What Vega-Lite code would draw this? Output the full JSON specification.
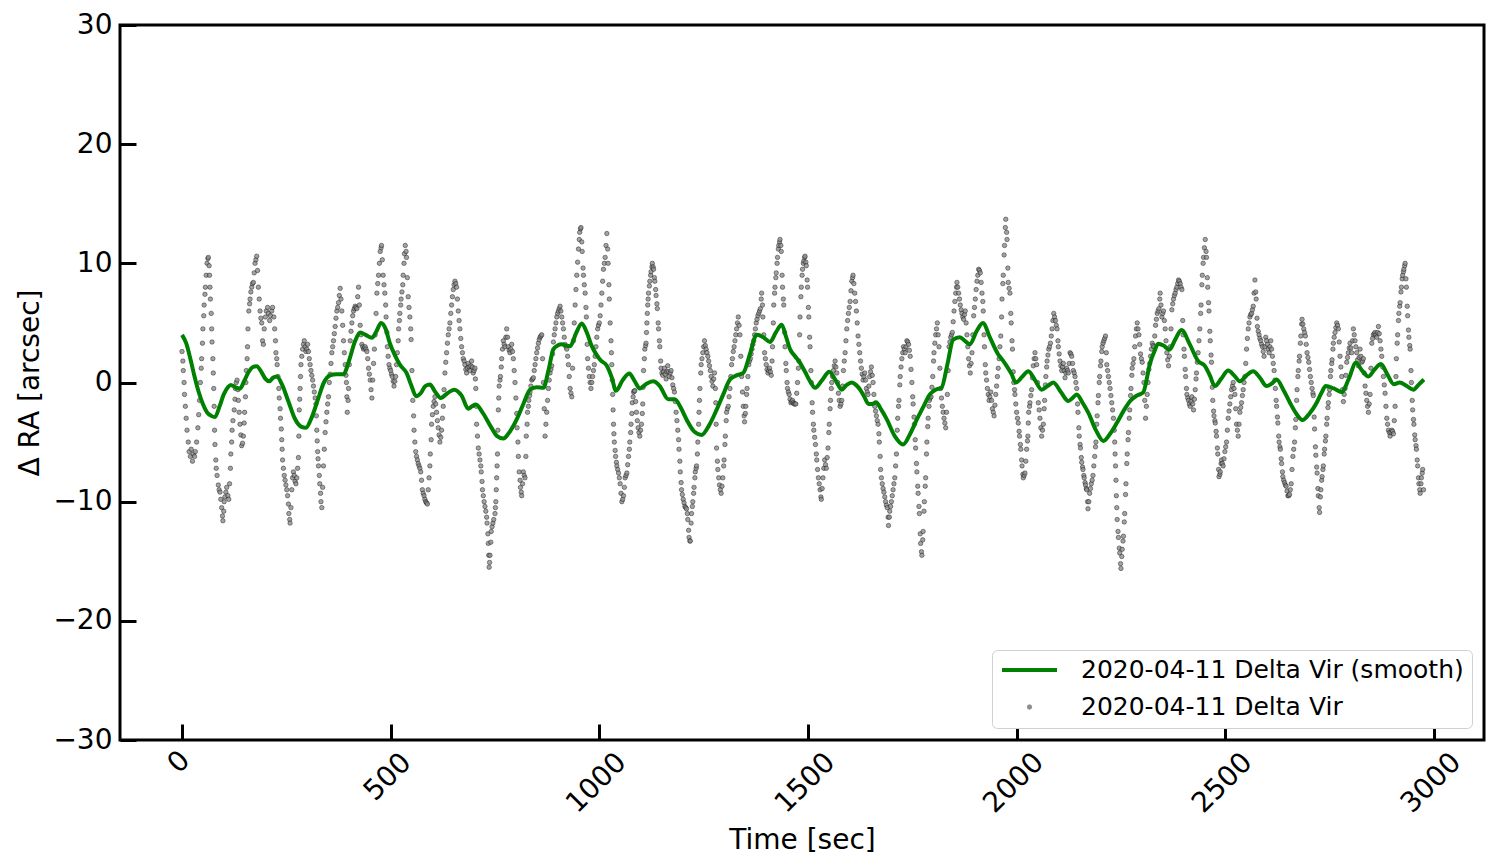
{
"$schema": "https://vega.github.io/schema/vega-lite/v6.json",
"width": 1364, "height": 715,
"autosize": {"type": "none"},
"padding": {"left": 120, "top": 25, "right": 16, "bottom": 126},
"background": "white",
"config": {"font": "DejaVu Sans", "view": {"stroke": "black", "strokeWidth": 3}},
"datasets": {
"smooth": [{"t":0,"v":4.0},{"t":10,"v":3.3},{"t":20,"v":2.0},{"t":30,"v":0.5},{"t":40,"v":-0.8},{"t":50,"v":-1.8},{"t":60,"v":-2.5},{"t":70,"v":-2.8},{"t":79,"v":-2.9},{"t":90,"v":-2.0},{"t":100,"v":-1.0},{"t":110,"v":-0.4},{"t":117,"v":-0.2},{"t":128,"v":-0.4},{"t":139,"v":-0.5},{"t":150,"v":0.2},{"t":160,"v":0.9},{"t":170,"v":1.3},{"t":179,"v":1.37},{"t":190,"v":0.9},{"t":200,"v":0.3},{"t":209,"v":0.1},{"t":218,"v":0.4},{"t":227,"v":0.5},{"t":240,"v":-0.2},{"t":255,"v":-1.6},{"t":270,"v":-3.0},{"t":285,"v":-3.7},{"t":297,"v":-3.8},{"t":310,"v":-3.0},{"t":325,"v":-1.5},{"t":340,"v":0},{"t":355,"v":0.6},{"t":370,"v":0.7},{"t":387,"v":0.7},{"t":400,"v":1.8},{"t":415,"v":3.5},{"t":427,"v":4.2},{"t":440,"v":4.0},{"t":455,"v":3.75},{"t":466,"v":4.3},{"t":477,"v":5.0},{"t":488,"v":4.5},{"t":498,"v":3.3},{"t":510,"v":2.3},{"t":522,"v":1.5},{"t":538,"v":0.8},{"t":550,"v":-0.3},{"t":561,"v":-1.15},{"t":572,"v":-0.9},{"t":583,"v":-0.3},{"t":594,"v":-0.17},{"t":607,"v":-0.8},{"t":620,"v":-1.3},{"t":636,"v":-0.9},{"t":652,"v":-0.6},{"t":670,"v":-1.1},{"t":686,"v":-2.2},{"t":695,"v":-2.0},{"t":704,"v":-1.85},{"t":720,"v":-2.5},{"t":740,"v":-3.7},{"t":755,"v":-4.5},{"t":770,"v":-4.7},{"t":786,"v":-4.1},{"t":802,"v":-3.1},{"t":818,"v":-1.8},{"t":834,"v":-0.6},{"t":850,"v":-0.4},{"t":866,"v":-0.45},{"t":878,"v":1.0},{"t":890,"v":2.8},{"t":900,"v":3.1},{"t":910,"v":3.2},{"t":920,"v":3.1},{"t":930,"v":3.05},{"t":945,"v":4.2},{"t":958,"v":4.95},{"t":970,"v":4.2},{"t":982,"v":3.05},{"t":992,"v":2.4},{"t":1002,"v":1.9},{"t":1018,"v":1.4},{"t":1030,"v":0.4},{"t":1040,"v":-0.7},{"t":1056,"v":0.2},{"t":1072,"v":0.75},{"t":1085,"v":0.1},{"t":1097,"v":-0.5},{"t":1113,"v":-0.1},{"t":1129,"v":0.1},{"t":1145,"v":-0.3},{"t":1165,"v":-1.4},{"t":1181,"v":-1.4},{"t":1195,"v":-2.1},{"t":1209,"v":-3.1},{"t":1227,"v":-4.1},{"t":1245,"v":-4.4},{"t":1263,"v":-3.6},{"t":1281,"v":-2.3},{"t":1297,"v":-1.0},{"t":1313,"v":0.25},{"t":1329,"v":0.6},{"t":1345,"v":0.8},{"t":1361,"v":2.4},{"t":1377,"v":4.0},{"t":1393,"v":3.8},{"t":1409,"v":3.4},{"t":1423,"v":4.2},{"t":1437,"v":4.85},{"t":1447,"v":3.9},{"t":1457,"v":2.8},{"t":1469,"v":2.2},{"t":1481,"v":1.65},{"t":1493,"v":0.9},{"t":1505,"v":0.1},{"t":1517,"v":-0.45},{"t":1534,"v":0.2},{"t":1551,"v":0.9},{"t":1566,"v":0.2},{"t":1581,"v":-0.6},{"t":1593,"v":-0.2},{"t":1605,"v":0},{"t":1615,"v":-0.2},{"t":1625,"v":-0.6},{"t":1635,"v":-1.2},{"t":1645,"v":-1.8},{"t":1654,"v":-1.8},{"t":1663,"v":-1.65},{"t":1676,"v":-2.3},{"t":1689,"v":-3.1},{"t":1708,"v":-4.5},{"t":1728,"v":-5.2},{"t":1745,"v":-4.3},{"t":1761,"v":-3.1},{"t":1777,"v":-2.0},{"t":1792,"v":-1.0},{"t":1806,"v":-0.6},{"t":1820,"v":-0.45},{"t":1834,"v":1.5},{"t":1848,"v":3.6},{"t":1864,"v":3.8},{"t":1876,"v":3.5},{"t":1888,"v":3.2},{"t":1904,"v":4.3},{"t":1919,"v":5.0},{"t":1937,"v":3.7},{"t":1956,"v":2.35},{"t":1966,"v":1.9},{"t":1976,"v":1.4},{"t":1988,"v":0.7},{"t":1998,"v":0},{"t":2014,"v":0.5},{"t":2028,"v":0.95},{"t":2044,"v":0.2},{"t":2060,"v":-0.6},{"t":2074,"v":-0.3},{"t":2088,"v":0},{"t":2106,"v":-0.8},{"t":2124,"v":-1.55},{"t":2134,"v":-1.3},{"t":2144,"v":-1.0},{"t":2158,"v":-1.7},{"t":2172,"v":-2.55},{"t":2190,"v":-4.0},{"t":2208,"v":-4.9},{"t":2224,"v":-4.3},{"t":2240,"v":-3.4},{"t":2256,"v":-2.4},{"t":2272,"v":-1.55},{"t":2288,"v":-1.1},{"t":2303,"v":-0.85},{"t":2320,"v":1.65},{"t":2330,"v":2.6},{"t":2339,"v":3.25},{"t":2352,"v":3.1},{"t":2366,"v":2.75},{"t":2380,"v":3.6},{"t":2395,"v":4.4},{"t":2415,"v":3.2},{"t":2435,"v":1.8},{"t":2451,"v":1.4},{"t":2463,"v":0.6},{"t":2475,"v":-0.3},{"t":2490,"v":0.3},{"t":2507,"v":1.0},{"t":2521,"v":0.6},{"t":2535,"v":0.1},{"t":2551,"v":0.6},{"t":2567,"v":0.95},{"t":2583,"v":0.4},{"t":2599,"v":-0.3},{"t":2611,"v":-0.1},{"t":2623,"v":0.25},{"t":2639,"v":-0.6},{"t":2655,"v":-1.7},{"t":2670,"v":-2.6},{"t":2685,"v":-3.15},{"t":2702,"v":-2.6},{"t":2719,"v":-1.7},{"t":2730,"v":-0.9},{"t":2741,"v":-0.3},{"t":2760,"v":-0.5},{"t":2779,"v":-0.8},{"t":2796,"v":0.3},{"t":2813,"v":1.65},{"t":2828,"v":1.0},{"t":2843,"v":0.5},{"t":2858,"v":1.1},{"t":2873,"v":1.55},{"t":2888,"v":0.7},{"t":2904,"v":-0.15},{"t":2918,"v":0},{"t":2935,"v":-0.3},{"t":2951,"v":-0.6},{"t":2963,"v":-0.2},{"t":2976,"v":0.25}],
"raw": [{"t":0,"v":2.6},{"t":2,"v":1.8},{"t":3,"v":1.0},{"t":5,"v":0},{"t":6,"v":-1.0},{"t":8,"v":-2},{"t":10,"v":-3},{"t":12,"v":-4},{"t":15,"v":-5},{"t":17,"v":-5.8},{"t":20,"v":-6.2},{"t":22,"v":-5.6},{"t":25,"v":-6.6},{"t":27,"v":-6},{"t":30,"v":-6.2},{"t":32,"v":-5.8},{"t":35,"v":-5},{"t":38,"v":-3.8},{"t":40,"v":-2.7},{"t":42,"v":-1.5},{"t":44,"v":0},{"t":46,"v":1.2},{"t":47,"v":2},{"t":49,"v":3.3},{"t":50,"v":4.5},{"t":52,"v":5.6},{"t":53,"v":6.5},{"t":55,"v":7.4},{"t":56,"v":8},{"t":58,"v":9},{"t":60,"v":10},{"t":62,"v":10.4},{"t":63,"v":10.5},{"t":65,"v":9.8},{"t":66,"v":9},{"t":67,"v":8},{"t":68,"v":7},{"t":70,"v":5.8},{"t":71,"v":4.5},{"t":72,"v":3.4},{"t":74,"v":2},{"t":75,"v":0.8},{"t":76,"v":-0.5},{"t":77,"v":-2},{"t":78,"v":-4},{"t":79,"v":-5.2},{"t":81,"v":-6.5},{"t":82,"v":-7.2},{"t":84,"v":-7.8},{"t":87,"v":-8.6},{"t":89,"v":-9},{"t":91,"v":-9.2},{"t":93,"v":-9.8},{"t":95,"v":-10.5},{"t":97,"v":-11.2},{"t":98,"v":-11.6},{"t":100,"v":-10.8},{"t":101,"v":-10},{"t":103,"v":-9.6},{"t":105,"v":-9.2},{"t":107,"v":-8.8},{"t":110,"v":-9.5},{"t":112,"v":-9.8},{"t":114,"v":-8.5},{"t":116,"v":-7.2},{"t":117,"v":-6},{"t":119,"v":-5},{"t":120,"v":-4},{"t":122,"v":-3.2},{"t":125,"v":-2.3},{"t":127,"v":-1.4},{"t":128,"v":-0.5},{"t":130,"v":0},{"t":132,"v":0.2},{"t":134,"v":-0.6},{"t":135,"v":-1.5},{"t":137,"v":-2.5},{"t":139,"v":-3.5},{"t":141,"v":-4.4},{"t":143,"v":-5.3},{"t":145,"v":-5.1},{"t":147,"v":-4.5},{"t":149,"v":-3.4},{"t":150,"v":-2.5},{"t":152,"v":-1.2},{"t":153,"v":0},{"t":154,"v":1},{"t":156,"v":2},{"t":157,"v":3},{"t":158,"v":4.5},{"t":160,"v":6},{"t":162,"v":6.6},{"t":163,"v":7},{"t":165,"v":7.6},{"t":167,"v":8},{"t":169,"v":8.3},{"t":171,"v":8.4},{"t":173,"v":9.2},{"t":175,"v":10},{"t":177,"v":10.3},{"t":179,"v":10.6},{"t":181,"v":9.4},{"t":183,"v":8},{"t":185,"v":7},{"t":187,"v":6},{"t":189,"v":5.4},{"t":191,"v":5},{"t":193,"v":3.5},{"t":195,"v":3.2},{"t":197,"v":4.5},{"t":200,"v":5.5},{"t":202,"v":6.0},{"t":205,"v":6.3},{"t":207,"v":5.8},{"t":210,"v":5.2},{"t":212,"v":5.6},{"t":215,"v":6},{"t":217,"v":6.3},{"t":220,"v":5.5},{"t":222,"v":4.5},{"t":224,"v":3.5},{"t":225,"v":2.5},{"t":227,"v":2},{"t":228,"v":1.5},{"t":230,"v":0.5},{"t":232,"v":-0.5},{"t":233,"v":-1.3},{"t":235,"v":-2.2},{"t":236,"v":-3},{"t":238,"v":-3.9},{"t":239,"v":-4.8},{"t":240,"v":-5.6},{"t":241,"v":-6.5},{"t":243,"v":-7.2},{"t":245,"v":-7.8},{"t":247,"v":-8.2},{"t":249,"v":-8.6},{"t":251,"v":-9},{"t":253,"v":-9.5},{"t":255,"v":-10.2},{"t":256,"v":-11},{"t":258,"v":-11.5},{"t":259,"v":-11.8},{"t":261,"v":-10.5},{"t":263,"v":-9},{"t":265,"v":-8},{"t":267,"v":-7.5},{"t":269,"v":-7.8},{"t":271,"v":-8.3},{"t":273,"v":-8.5},{"t":275,"v":-8},{"t":277,"v":-7.2},{"t":279,"v":-6.3},{"t":280,"v":-4.5},{"t":281,"v":-2.3},{"t":282,"v":-1.4},{"t":283,"v":-0.5},{"t":284,"v":0.5},{"t":285,"v":1.5},{"t":287,"v":2.2},{"t":289,"v":2.8},{"t":291,"v":3.2},{"t":293,"v":3.5},{"t":295,"v":3.0},{"t":297,"v":2.6},{"t":299,"v":2.8},{"t":301,"v":3.2},{"t":303,"v":2.6},{"t":305,"v":2},{"t":307,"v":1.5},{"t":309,"v":1},{"t":311,"v":0.6},{"t":313,"v":0.2},{"t":315,"v":-0.3},{"t":317,"v":-0.8},{"t":319,"v":-1.3},{"t":321,"v":-1.8},{"t":322,"v":-2.8},{"t":323,"v":-4},{"t":324,"v":-4.9},{"t":325,"v":-5.8},{"t":326,"v":-6.4},{"t":327,"v":-7},{"t":329,"v":-7.8},{"t":330,"v":-8.5},{"t":332,"v":-9.3},{"t":333,"v":-10},{"t":335,"v":-10.5},{"t":337,"v":-8.8},{"t":339,"v":-7},{"t":341,"v":-5.6},{"t":343,"v":-4.2},{"t":345,"v":-3.3},{"t":347,"v":-2.5},{"t":349,"v":-1.8},{"t":351,"v":-1.2},{"t":353,"v":0},{"t":355,"v":0.7},{"t":357,"v":1.6},{"t":359,"v":2.5},{"t":361,"v":3},{"t":363,"v":3.5},{"t":365,"v":4.1},{"t":367,"v":4.7},{"t":369,"v":5.4},{"t":371,"v":6},{"t":373,"v":6.3},{"t":375,"v":6.7},{"t":377,"v":7.3},{"t":379,"v":7.9},{"t":381,"v":7},{"t":383,"v":6},{"t":385,"v":4.8},{"t":387,"v":3.5},{"t":389,"v":2.5},{"t":391,"v":1.5},{"t":393,"v":0.6},{"t":394,"v":0},{"t":395,"v":-1.2},{"t":396,"v":-2.5},{"t":398,"v":-1.5},{"t":399,"v":-0.5},{"t":401,"v":1.5},{"t":403,"v":3.5},{"t":405,"v":4.3},{"t":407,"v":5},{"t":409,"v":5.6},{"t":411,"v":6},{"t":413,"v":6.2},{"t":415,"v":6.4},{"t":417,"v":6.3},{"t":419,"v":6.2},{"t":421,"v":7.2},{"t":423,"v":8},{"t":425,"v":6.5},{"t":427,"v":4.8},{"t":429,"v":4},{"t":431,"v":3.2},{"t":433,"v":3},{"t":435,"v":2.8},{"t":437,"v":2.9},{"t":439,"v":3},{"t":441,"v":2.8},{"t":443,"v":2.6},{"t":445,"v":2},{"t":447,"v":1.2},{"t":449,"v":0.7},{"t":451,"v":0.2},{"t":453,"v":-0.6},{"t":455,"v":-1.3},{"t":457,"v":0.2},{"t":459,"v":1.6},{"t":461,"v":2.8},{"t":463,"v":4},{"t":465,"v":5.8},{"t":467,"v":7.5},{"t":469,"v":8.3},{"t":471,"v":9},{"t":473,"v":10},{"t":475,"v":11},{"t":477,"v":11.3},{"t":478,"v":11.5},{"t":480,"v":10.3},{"t":482,"v":9},{"t":484,"v":8.2},{"t":486,"v":7.5},{"t":488,"v":6.5},{"t":489,"v":5.5},{"t":491,"v":4.2},{"t":492,"v":3},{"t":494,"v":2.2},{"t":496,"v":1.5},{"t":498,"v":1.2},{"t":500,"v":1},{"t":502,"v":0.7},{"t":504,"v":0.5},{"t":506,"v":0.1},{"t":508,"v":-0.3},{"t":510,"v":0.1},{"t":512,"v":0.5},{"t":514,"v":1.5},{"t":516,"v":2.5},{"t":518,"v":3.5},{"t":519,"v":4.5},{"t":521,"v":5.2},{"t":522,"v":5.8},{"t":524,"v":6.5},{"t":525,"v":7},{"t":527,"v":7.6},{"t":529,"v":8.2},{"t":530,"v":9},{"t":532,"v":10},{"t":533,"v":10.8},{"t":535,"v":11.5},{"t":537,"v":11.0},{"t":538,"v":10.5},{"t":540,"v":8.8},{"t":542,"v":7.2},{"t":544,"v":6.3},{"t":546,"v":5.5},{"t":548,"v":4.5},{"t":549,"v":3.6},{"t":551,"v":1},{"t":553,"v":-1.5},{"t":555,"v":-2.8},{"t":556,"v":-4},{"t":558,"v":-5},{"t":560,"v":-5.8},{"t":562,"v":-6.2},{"t":564,"v":-6.5},{"t":566,"v":-6.8},{"t":568,"v":-7},{"t":570,"v":-7.2},{"t":572,"v":-7.5},{"t":574,"v":-8.2},{"t":576,"v":-9},{"t":578,"v":-9.3},{"t":580,"v":-9.5},{"t":582,"v":-9.8},{"t":584,"v":-10},{"t":586,"v":-10.1},{"t":588,"v":-10.2},{"t":590,"v":-9},{"t":592,"v":-8},{"t":594,"v":-7},{"t":595,"v":-6},{"t":597,"v":-4.8},{"t":598,"v":-3.5},{"t":600,"v":-2.7},{"t":602,"v":-2},{"t":604,"v":-1.6},{"t":606,"v":-1.2},{"t":608,"v":-1.8},{"t":610,"v":-2.5},{"t":612,"v":-3.2},{"t":614,"v":-3.8},{"t":616,"v":-4.4},{"t":618,"v":-5},{"t":620,"v":-4.6},{"t":622,"v":-4},{"t":624,"v":-3},{"t":626,"v":-2},{"t":628,"v":-0.6},{"t":630,"v":0.8},{"t":632,"v":1.7},{"t":634,"v":2.5},{"t":636,"v":3.3},{"t":638,"v":4},{"t":640,"v":4.5},{"t":642,"v":5},{"t":644,"v":5.8},{"t":646,"v":6.5},{"t":648,"v":7.2},{"t":650,"v":7.8},{"t":652,"v":8.2},{"t":654,"v":8.5},{"t":656,"v":8.3},{"t":658,"v":8},{"t":660,"v":7},{"t":662,"v":6},{"t":664,"v":5.2},{"t":666,"v":4.5},{"t":668,"v":3.7},{"t":670,"v":3},{"t":672,"v":2.5},{"t":674,"v":2},{"t":676,"v":1.8},{"t":678,"v":1.5},{"t":680,"v":1.1},{"t":682,"v":0.8},{"t":684,"v":1.2},{"t":686,"v":1.6},{"t":688,"v":1.3},{"t":690,"v":1},{"t":692,"v":1.4},{"t":694,"v":1.8},{"t":696,"v":1.3},{"t":698,"v":0.8},{"t":700,"v":1},{"t":702,"v":1.2},{"t":703,"v":0.3},{"t":704,"v":-0.5},{"t":705,"v":-2},{"t":706,"v":-3.5},{"t":708,"v":-4.5},{"t":710,"v":-5.5},{"t":712,"v":-6},{"t":714,"v":-6.5},{"t":716,"v":-7},{"t":717,"v":-7.5},{"t":719,"v":-8.3},{"t":720,"v":-9},{"t":722,"v":-9.5},{"t":724,"v":-10},{"t":726,"v":-10.4},{"t":728,"v":-10.8},{"t":730,"v":-11.3},{"t":731,"v":-11.8},{"t":733,"v":-12.7},{"t":734,"v":-13.5},{"t":735,"v":-14.5},{"t":736,"v":-15.5},{"t":737,"v":-15.1},{"t":738,"v":-14.5},{"t":740,"v":-13.4},{"t":741,"v":-12.5},{"t":743,"v":-12.1},{"t":745,"v":-11.8},{"t":747,"v":-11.5},{"t":750,"v":-11},{"t":751,"v":-10.5},{"t":752,"v":-10},{"t":753,"v":-9},{"t":754,"v":-8},{"t":755,"v":-7},{"t":756,"v":-6},{"t":757,"v":-4},{"t":758,"v":-2.3},{"t":759,"v":-1.3},{"t":760,"v":-0.3},{"t":762,"v":0.2},{"t":763,"v":0.5},{"t":765,"v":1.3},{"t":766,"v":2},{"t":768,"v":2.8},{"t":770,"v":3.5},{"t":772,"v":3.2},{"t":774,"v":3},{"t":776,"v":3.8},{"t":778,"v":4.5},{"t":780,"v":3.8},{"t":782,"v":3},{"t":784,"v":2.7},{"t":786,"v":2.5},{"t":788,"v":2.8},{"t":790,"v":3.2},{"t":792,"v":2.6},{"t":794,"v":2},{"t":796,"v":1},{"t":798,"v":0},{"t":800,"v":-1.3},{"t":802,"v":-2.6},{"t":803,"v":-3.8},{"t":805,"v":-5},{"t":806,"v":-6.2},{"t":808,"v":-7.5},{"t":810,"v":-8.2},{"t":811,"v":-8.8},{"t":813,"v":-9.2},{"t":814,"v":-9.5},{"t":816,"v":-8.5},{"t":818,"v":-7.5},{"t":820,"v":-7.8},{"t":822,"v":-8},{"t":824,"v":-6.2},{"t":825,"v":-4.5},{"t":827,"v":-3.5},{"t":828,"v":-2.5},{"t":830,"v":-2},{"t":831,"v":-1.5},{"t":833,"v":-1.1},{"t":834,"v":-0.8},{"t":836,"v":-0.3},{"t":838,"v":0.2},{"t":840,"v":0.3},{"t":842,"v":0.4},{"t":844,"v":1},{"t":846,"v":1.5},{"t":848,"v":2},{"t":850,"v":2.5},{"t":852,"v":2.9},{"t":854,"v":3.3},{"t":856,"v":3.6},{"t":858,"v":3.8},{"t":860,"v":3.9},{"t":862,"v":4},{"t":864,"v":2},{"t":866,"v":0},{"t":868,"v":-2.2},{"t":870,"v":-4.5},{"t":872,"v":-3.5},{"t":874,"v":-2.5},{"t":876,"v":-1.5},{"t":878,"v":-0.5},{"t":880,"v":0.2},{"t":882,"v":0.8},{"t":884,"v":1.1},{"t":886,"v":1.4},{"t":888,"v":2.4},{"t":890,"v":3.4},{"t":892,"v":4},{"t":894,"v":4.5},{"t":896,"v":5},{"t":898,"v":5.5},{"t":900,"v":5.8},{"t":902,"v":6},{"t":904,"v":6.2},{"t":906,"v":6.4},{"t":908,"v":6},{"t":910,"v":5.5},{"t":912,"v":5},{"t":914,"v":4.5},{"t":916,"v":3.8},{"t":918,"v":3.2},{"t":920,"v":3},{"t":922,"v":2.8},{"t":924,"v":2.2},{"t":926,"v":1.5},{"t":928,"v":0.5},{"t":930,"v":-0.5},{"t":932,"v":-0.9},{"t":934,"v":-1.2},{"t":936,"v":1.2},{"t":938,"v":3.5},{"t":940,"v":5},{"t":942,"v":6.5},{"t":944,"v":7.8},{"t":946,"v":9},{"t":948,"v":10.1},{"t":950,"v":11.2},{"t":952,"v":12},{"t":953,"v":12.6},{"t":955,"v":12.9},{"t":956,"v":13},{"t":958,"v":11.8},{"t":959,"v":11},{"t":961,"v":9.6},{"t":962,"v":9},{"t":964,"v":8.2},{"t":966,"v":7.5},{"t":968,"v":6.3},{"t":969,"v":5.5},{"t":971,"v":3.2},{"t":972,"v":2},{"t":974,"v":1.2},{"t":976,"v":0.5},{"t":978,"v":0},{"t":980,"v":-0.5},{"t":982,"v":0},{"t":984,"v":0.5},{"t":986,"v":1},{"t":988,"v":1.5},{"t":990,"v":2.2},{"t":992,"v":3},{"t":994,"v":3.8},{"t":996,"v":4.5},{"t":998,"v":4.8},{"t":1000,"v":5},{"t":1002,"v":5.6},{"t":1004,"v":6.5},{"t":1006,"v":7.5},{"t":1008,"v":8.5},{"t":1010,"v":9.5},{"t":1012,"v":10},{"t":1014,"v":10.5},{"t":1016,"v":11.5},{"t":1018,"v":12.5},{"t":1020,"v":11.2},{"t":1021,"v":10},{"t":1023,"v":8.2},{"t":1024,"v":7},{"t":1026,"v":5},{"t":1028,"v":3.5},{"t":1029,"v":2.5},{"t":1030,"v":1.5},{"t":1031,"v":0.2},{"t":1032,"v":-1},{"t":1033,"v":-2.3},{"t":1034,"v":-3.5},{"t":1035,"v":-4.3},{"t":1036,"v":-5},{"t":1038,"v":-5.7},{"t":1039,"v":-6.2},{"t":1041,"v":-6.7},{"t":1042,"v":-7},{"t":1044,"v":-7.3},{"t":1046,"v":-7.6},{"t":1048,"v":-8},{"t":1050,"v":-8.5},{"t":1052,"v":-9.3},{"t":1054,"v":-10},{"t":1056,"v":-9.8},{"t":1058,"v":-9.5},{"t":1060,"v":-8.8},{"t":1062,"v":-8},{"t":1064,"v":-7.8},{"t":1066,"v":-7.6},{"t":1068,"v":-6.9},{"t":1070,"v":-6.2},{"t":1072,"v":-5.6},{"t":1073,"v":-5},{"t":1075,"v":-4.2},{"t":1076,"v":-3.5},{"t":1078,"v":-2.6},{"t":1079,"v":-1.7},{"t":1081,"v":-1.2},{"t":1082,"v":-0.8},{"t":1084,"v":-0.7},{"t":1085,"v":-0.7},{"t":1087,"v":-1.6},{"t":1089,"v":-2.5},{"t":1091,"v":-3.2},{"t":1093,"v":-3.8},{"t":1095,"v":-4.2},{"t":1097,"v":-4.5},{"t":1099,"v":-4},{"t":1101,"v":-3.5},{"t":1103,"v":-2.6},{"t":1104,"v":-1.8},{"t":1105,"v":-0.4},{"t":1106,"v":1},{"t":1108,"v":2},{"t":1109,"v":2.8},{"t":1111,"v":3.1},{"t":1112,"v":3.3},{"t":1113,"v":4.2},{"t":1114,"v":5},{"t":1115,"v":5.8},{"t":1116,"v":6.5},{"t":1117,"v":7},{"t":1118,"v":7.5},{"t":1120,"v":8.1},{"t":1121,"v":8.5},{"t":1123,"v":9},{"t":1124,"v":9.3},{"t":1126,"v":9.7},{"t":1127,"v":10},{"t":1129,"v":9.7},{"t":1130,"v":9.5},{"t":1132,"v":8.8},{"t":1133,"v":8.5},{"t":1135,"v":7.8},{"t":1136,"v":7.3},{"t":1138,"v":6.6},{"t":1139,"v":6.2},{"t":1141,"v":5},{"t":1142,"v":4.5},{"t":1144,"v":3.5},{"t":1145,"v":3},{"t":1147,"v":1.8},{"t":1148,"v":1.2},{"t":1150,"v":0.8},{"t":1152,"v":0.6},{"t":1154,"v":0.9},{"t":1156,"v":1.2},{"t":1158,"v":0.7},{"t":1160,"v":0.3},{"t":1162,"v":0.9},{"t":1164,"v":1.4},{"t":1166,"v":0.9},{"t":1168,"v":0.5},{"t":1170,"v":0.8},{"t":1172,"v":1},{"t":1174,"v":0.4},{"t":1176,"v":-0.2},{"t":1178,"v":-0.5},{"t":1180,"v":-0.8},{"t":1182,"v":-1.6},{"t":1184,"v":-2.5},{"t":1186,"v":-3.2},{"t":1188,"v":-4},{"t":1190,"v":-4.8},{"t":1191,"v":-5.6},{"t":1193,"v":-6.6},{"t":1194,"v":-7.5},{"t":1196,"v":-8.4},{"t":1197,"v":-9},{"t":1199,"v":-9.4},{"t":1201,"v":-9.8},{"t":1203,"v":-10.1},{"t":1205,"v":-10.4},{"t":1207,"v":-10.5},{"t":1209,"v":-10.6},{"t":1211,"v":-11},{"t":1212,"v":-11.5},{"t":1214,"v":-12.4},{"t":1215,"v":-13},{"t":1217,"v":-13.3},{"t":1218,"v":-13.3},{"t":1220,"v":-11.8},{"t":1221,"v":-11},{"t":1223,"v":-10.4},{"t":1224,"v":-10},{"t":1226,"v":-9.3},{"t":1227,"v":-8.8},{"t":1229,"v":-8},{"t":1230,"v":-7.5},{"t":1232,"v":-7.2},{"t":1233,"v":-7},{"t":1235,"v":-6},{"t":1236,"v":-5},{"t":1238,"v":-3.5},{"t":1239,"v":-2.5},{"t":1240,"v":-1.5},{"t":1241,"v":-0.5},{"t":1243,"v":0.8},{"t":1244,"v":1.5},{"t":1246,"v":2},{"t":1248,"v":2.5},{"t":1250,"v":3},{"t":1252,"v":3.5},{"t":1254,"v":3.1},{"t":1256,"v":2.8},{"t":1258,"v":2.5},{"t":1260,"v":2.2},{"t":1262,"v":1.8},{"t":1264,"v":1.4},{"t":1266,"v":1},{"t":1268,"v":0.5},{"t":1270,"v":0.1},{"t":1272,"v":-0.3},{"t":1274,"v":0.3},{"t":1276,"v":0.8},{"t":1278,"v":-0.5},{"t":1279,"v":-1.7},{"t":1280,"v":-3.5},{"t":1281,"v":-5.5},{"t":1283,"v":-6.6},{"t":1284,"v":-7.3},{"t":1286,"v":-8},{"t":1288,"v":-8.6},{"t":1290,"v":-9},{"t":1292,"v":-9.3},{"t":1294,"v":-8.7},{"t":1296,"v":-8},{"t":1298,"v":-7},{"t":1299,"v":-6.5},{"t":1301,"v":-5.2},{"t":1302,"v":-4.5},{"t":1304,"v":-3.2},{"t":1305,"v":-2.5},{"t":1307,"v":-2.2},{"t":1309,"v":-2},{"t":1311,"v":-1.2},{"t":1313,"v":-0.5},{"t":1315,"v":0.5},{"t":1317,"v":1.5},{"t":1319,"v":2},{"t":1321,"v":2.6},{"t":1323,"v":3},{"t":1325,"v":3.5},{"t":1327,"v":4},{"t":1329,"v":4.5},{"t":1331,"v":5},{"t":1333,"v":5.5},{"t":1335,"v":4.8},{"t":1337,"v":4},{"t":1339,"v":2.2},{"t":1341,"v":0.5},{"t":1343,"v":-0.8},{"t":1345,"v":-2},{"t":1347,"v":-2.8},{"t":1348,"v":-3.3},{"t":1350,"v":-2.6},{"t":1351,"v":-2},{"t":1353,"v":-1},{"t":1354,"v":-0.5},{"t":1356,"v":0.5},{"t":1358,"v":1.5},{"t":1360,"v":1.8},{"t":1362,"v":2},{"t":1364,"v":2.4},{"t":1366,"v":2.8},{"t":1368,"v":3.2},{"t":1370,"v":3.5},{"t":1372,"v":4},{"t":1374,"v":4.5},{"t":1376,"v":5},{"t":1378,"v":5.3},{"t":1380,"v":5.6},{"t":1382,"v":5.8},{"t":1384,"v":6},{"t":1386,"v":6.2},{"t":1388,"v":7},{"t":1389,"v":7.5},{"t":1391,"v":6.5},{"t":1392,"v":5.5},{"t":1394,"v":4},{"t":1396,"v":2.5},{"t":1398,"v":2},{"t":1400,"v":1.5},{"t":1402,"v":1.1},{"t":1404,"v":0.8},{"t":1406,"v":1},{"t":1408,"v":1.2},{"t":1410,"v":0.9},{"t":1412,"v":0.6},{"t":1414,"v":1.8},{"t":1415,"v":3},{"t":1417,"v":5},{"t":1418,"v":6.5},{"t":1420,"v":7.5},{"t":1421,"v":8},{"t":1423,"v":8.8},{"t":1424,"v":9.2},{"t":1426,"v":10},{"t":1427,"v":10.5},{"t":1429,"v":11.2},{"t":1430,"v":11.5},{"t":1432,"v":11.8},{"t":1433,"v":12},{"t":1435,"v":11.5},{"t":1436,"v":11},{"t":1438,"v":9},{"t":1439,"v":8},{"t":1441,"v":7},{"t":1442,"v":6.5},{"t":1444,"v":4.2},{"t":1445,"v":3},{"t":1447,"v":1.6},{"t":1448,"v":1},{"t":1450,"v":0},{"t":1451,"v":-0.5},{"t":1453,"v":-0.8},{"t":1455,"v":-1},{"t":1457,"v":-1.4},{"t":1459,"v":-1.7},{"t":1461,"v":-1.6},{"t":1463,"v":-1.5},{"t":1465,"v":-1.7},{"t":1467,"v":-1.8},{"t":1469,"v":-1.8},{"t":1471,"v":-1.8},{"t":1473,"v":-0.9},{"t":1475,"v":0},{"t":1477,"v":1.2},{"t":1478,"v":1.8},{"t":1480,"v":4},{"t":1481,"v":5.5},{"t":1483,"v":7.2},{"t":1484,"v":8},{"t":1486,"v":9},{"t":1487,"v":9.5},{"t":1489,"v":10},{"t":1490,"v":10.2},{"t":1492,"v":10.5},{"t":1493,"v":10.6},{"t":1495,"v":10.1},{"t":1496,"v":9.8},{"t":1498,"v":8.6},{"t":1499,"v":8},{"t":1501,"v":6.3},{"t":1502,"v":5.5},{"t":1504,"v":3.8},{"t":1505,"v":3},{"t":1507,"v":1},{"t":1508,"v":0},{"t":1510,"v":-1.7},{"t":1511,"v":-2.5},{"t":1513,"v":-3.5},{"t":1514,"v":-4},{"t":1516,"v":-4.6},{"t":1518,"v":-5.2},{"t":1520,"v":-6},{"t":1521,"v":-6.5},{"t":1523,"v":-7.3},{"t":1525,"v":-8},{"t":1527,"v":-8.5},{"t":1529,"v":-9},{"t":1531,"v":-9.6},{"t":1532,"v":-9.8},{"t":1534,"v":-8.9},{"t":1536,"v":-8},{"t":1538,"v":-7.2},{"t":1540,"v":-6.5},{"t":1542,"v":-6.9},{"t":1544,"v":-7.2},{"t":1546,"v":-6.3},{"t":1548,"v":-5.5},{"t":1550,"v":-4.2},{"t":1551,"v":-3.5},{"t":1553,"v":-2.2},{"t":1554,"v":-1.5},{"t":1556,"v":-0.5},{"t":1557,"v":0},{"t":1559,"v":0.5},{"t":1561,"v":1},{"t":1563,"v":1.4},{"t":1565,"v":1.8},{"t":1567,"v":1.3},{"t":1569,"v":0.8},{"t":1571,"v":0},{"t":1573,"v":-0.9},{"t":1575,"v":-1.5},{"t":1577,"v":-2},{"t":1579,"v":-1.8},{"t":1581,"v":-1.5},{"t":1583,"v":-0.3},{"t":1585,"v":1},{"t":1587,"v":1.8},{"t":1589,"v":2.5},{"t":1591,"v":3.5},{"t":1593,"v":4.5},{"t":1595,"v":5.2},{"t":1597,"v":5.8},{"t":1599,"v":6.3},{"t":1601,"v":6.8},{"t":1603,"v":7.7},{"t":1605,"v":8.5},{"t":1607,"v":8.8},{"t":1608,"v":9},{"t":1610,"v":8.3},{"t":1612,"v":7.5},{"t":1614,"v":6.8},{"t":1616,"v":6},{"t":1618,"v":5},{"t":1620,"v":3.9},{"t":1622,"v":3.2},{"t":1624,"v":2.5},{"t":1626,"v":1.8},{"t":1628,"v":1.2},{"t":1630,"v":0.7},{"t":1632,"v":0.2},{"t":1634,"v":0.5},{"t":1636,"v":0.8},{"t":1638,"v":0.2},{"t":1640,"v":-0.5},{"t":1642,"v":-0.8},{"t":1644,"v":-1},{"t":1646,"v":-0.3},{"t":1648,"v":0.5},{"t":1650,"v":0.9},{"t":1652,"v":1.3},{"t":1654,"v":0.6},{"t":1656,"v":0},{"t":1658,"v":-1},{"t":1660,"v":-2},{"t":1662,"v":-2.4},{"t":1664,"v":-2.8},{"t":1666,"v":-3.2},{"t":1668,"v":-3.5},{"t":1670,"v":-4.3},{"t":1671,"v":-5},{"t":1673,"v":-6.2},{"t":1674,"v":-7.3},{"t":1676,"v":-8},{"t":1678,"v":-8.5},{"t":1680,"v":-8.9},{"t":1682,"v":-9.2},{"t":1684,"v":-9.6},{"t":1686,"v":-10},{"t":1688,"v":-10.3},{"t":1690,"v":-10.5},{"t":1692,"v":-11.3},{"t":1693,"v":-12},{"t":1695,"v":-11.3},{"t":1696,"v":-10.8},{"t":1698,"v":-10.4},{"t":1700,"v":-10},{"t":1702,"v":-9.5},{"t":1704,"v":-9},{"t":1706,"v":-8.5},{"t":1708,"v":-8},{"t":1710,"v":-7},{"t":1712,"v":-6},{"t":1714,"v":-4},{"t":1715,"v":-3},{"t":1717,"v":-2},{"t":1718,"v":-1.5},{"t":1720,"v":-0.2},{"t":1721,"v":0.5},{"t":1723,"v":1.3},{"t":1725,"v":2},{"t":1727,"v":2.5},{"t":1729,"v":3},{"t":1731,"v":2.8},{"t":1733,"v":2.5},{"t":1735,"v":3},{"t":1737,"v":3.5},{"t":1739,"v":3.4},{"t":1741,"v":3.2},{"t":1743,"v":2.7},{"t":1745,"v":2.2},{"t":1747,"v":1.1},{"t":1749,"v":0},{"t":1751,"v":-1.2},{"t":1752,"v":-1.8},{"t":1754,"v":-2.9},{"t":1755,"v":-3.5},{"t":1757,"v":-4.8},{"t":1758,"v":-5.5},{"t":1760,"v":-6.8},{"t":1761,"v":-7.5},{"t":1763,"v":-8.7},{"t":1764,"v":-9.3},{"t":1766,"v":-10.4},{"t":1767,"v":-11},{"t":1769,"v":-12.7},{"t":1770,"v":-13.5},{"t":1772,"v":-14.2},{"t":1773,"v":-14.5},{"t":1775,"v":-13.2},{"t":1776,"v":-12.5},{"t":1778,"v":-10.8},{"t":1779,"v":-10},{"t":1781,"v":-8.7},{"t":1782,"v":-8},{"t":1784,"v":-6},{"t":1785,"v":-5},{"t":1787,"v":-3.7},{"t":1788,"v":-3},{"t":1790,"v":-2},{"t":1791,"v":-1.5},{"t":1793,"v":-1.3},{"t":1795,"v":-1.2},{"t":1797,"v":-0.4},{"t":1799,"v":0.5},{"t":1801,"v":1.8},{"t":1802,"v":2.5},{"t":1804,"v":3.3},{"t":1806,"v":4},{"t":1808,"v":4.5},{"t":1810,"v":5},{"t":1812,"v":4},{"t":1814,"v":3},{"t":1816,"v":1.2},{"t":1818,"v":-0.5},{"t":1820,"v":-1.3},{"t":1822,"v":-2},{"t":1824,"v":-2.5},{"t":1826,"v":-3},{"t":1828,"v":-3.4},{"t":1830,"v":-3.8},{"t":1832,"v":-2.5},{"t":1834,"v":-1},{"t":1836,"v":1},{"t":1838,"v":3},{"t":1840,"v":3.4},{"t":1842,"v":3.8},{"t":1844,"v":4},{"t":1846,"v":4.2},{"t":1848,"v":5.1},{"t":1850,"v":6},{"t":1852,"v":6.8},{"t":1854,"v":7.5},{"t":1856,"v":8},{"t":1857,"v":8.4},{"t":1859,"v":8},{"t":1861,"v":7.5},{"t":1863,"v":7},{"t":1865,"v":6.5},{"t":1867,"v":6.1},{"t":1869,"v":5.8},{"t":1871,"v":5.5},{"t":1873,"v":5.3},{"t":1875,"v":5.7},{"t":1877,"v":6},{"t":1879,"v":5},{"t":1881,"v":4},{"t":1883,"v":3},{"t":1885,"v":2},{"t":1887,"v":1.4},{"t":1889,"v":0.8},{"t":1891,"v":1.6},{"t":1893,"v":2.5},{"t":1895,"v":4},{"t":1897,"v":5.6},{"t":1899,"v":6.3},{"t":1901,"v":7},{"t":1903,"v":7.8},{"t":1905,"v":8.5},{"t":1907,"v":9},{"t":1909,"v":9.5},{"t":1911,"v":9.4},{"t":1913,"v":9.2},{"t":1915,"v":8.4},{"t":1917,"v":7.5},{"t":1919,"v":6.8},{"t":1920,"v":6},{"t":1922,"v":4},{"t":1923,"v":3},{"t":1925,"v":1.5},{"t":1926,"v":0.8},{"t":1928,"v":0.2},{"t":1930,"v":-0.5},{"t":1932,"v":-1},{"t":1934,"v":-1.5},{"t":1936,"v":-1.2},{"t":1938,"v":-0.8},{"t":1940,"v":-1.5},{"t":1942,"v":-2.2},{"t":1944,"v":-2.5},{"t":1946,"v":-2.8},{"t":1948,"v":-1.9},{"t":1950,"v":-1},{"t":1952,"v":-0.3},{"t":1954,"v":0.5},{"t":1956,"v":1.2},{"t":1958,"v":2},{"t":1960,"v":3},{"t":1962,"v":3.9},{"t":1964,"v":5.5},{"t":1965,"v":7},{"t":1967,"v":8.3},{"t":1968,"v":9},{"t":1970,"v":10.7},{"t":1971,"v":11.5},{"t":1973,"v":13},{"t":1974,"v":13.7},{"t":1976,"v":12.6},{"t":1977,"v":12},{"t":1979,"v":9.6},{"t":1980,"v":8.4},{"t":1982,"v":7.9},{"t":1984,"v":7.5},{"t":1986,"v":5.8},{"t":1987,"v":5},{"t":1989,"v":3.5},{"t":1990,"v":2.8},{"t":1992,"v":0.9},{"t":1993,"v":0},{"t":1995,"v":-0.6},{"t":1996,"v":-1},{"t":1998,"v":-1.8},{"t":2000,"v":-2.5},{"t":2002,"v":-3},{"t":2004,"v":-3.4},{"t":2006,"v":-4.1},{"t":2007,"v":-4.5},{"t":2009,"v":-5.2},{"t":2010,"v":-5.6},{"t":2012,"v":-6.5},{"t":2013,"v":-7},{"t":2015,"v":-7.7},{"t":2016,"v":-8},{"t":2018,"v":-7.8},{"t":2020,"v":-7.6},{"t":2022,"v":-6.6},{"t":2024,"v":-5.6},{"t":2026,"v":-4.9},{"t":2027,"v":-4.5},{"t":2028,"v":-3.4},{"t":2029,"v":-2.5},{"t":2031,"v":-2},{"t":2032,"v":-1.7},{"t":2034,"v":-1.1},{"t":2036,"v":-0.6},{"t":2038,"v":0.4},{"t":2040,"v":1.4},{"t":2042,"v":2},{"t":2044,"v":2.5},{"t":2046,"v":2},{"t":2048,"v":1.5},{"t":2050,"v":0},{"t":2052,"v":-1.7},{"t":2054,"v":-2.3},{"t":2056,"v":-3},{"t":2058,"v":-3.8},{"t":2060,"v":-4.5},{"t":2062,"v":-4},{"t":2064,"v":-3.5},{"t":2066,"v":-2.2},{"t":2067,"v":-1.5},{"t":2069,"v":-0.2},{"t":2070,"v":0.5},{"t":2072,"v":1.3},{"t":2073,"v":1.8},{"t":2075,"v":2.3},{"t":2077,"v":2.8},{"t":2079,"v":3},{"t":2081,"v":3.3},{"t":2083,"v":3.9},{"t":2085,"v":4.5},{"t":2087,"v":5.2},{"t":2089,"v":5.8},{"t":2091,"v":5.5},{"t":2093,"v":5.2},{"t":2095,"v":4.8},{"t":2097,"v":4.5},{"t":2099,"v":3.5},{"t":2100,"v":3},{"t":2102,"v":2.4},{"t":2104,"v":1.8},{"t":2106,"v":1.4},{"t":2108,"v":1},{"t":2110,"v":1.3},{"t":2112,"v":1.6},{"t":2114,"v":1},{"t":2116,"v":0.4},{"t":2118,"v":0.8},{"t":2120,"v":1.2},{"t":2122,"v":1},{"t":2124,"v":0.8},{"t":2126,"v":1.6},{"t":2128,"v":2.5},{"t":2130,"v":2.4},{"t":2132,"v":2.2},{"t":2134,"v":1.6},{"t":2136,"v":1},{"t":2138,"v":0.8},{"t":2140,"v":0.5},{"t":2142,"v":0},{"t":2144,"v":-0.5},{"t":2146,"v":-1.8},{"t":2147,"v":-2.5},{"t":2149,"v":-3.8},{"t":2150,"v":-4.5},{"t":2152,"v":-5.2},{"t":2153,"v":-5.5},{"t":2155,"v":-6.3},{"t":2156,"v":-6.7},{"t":2158,"v":-7.1},{"t":2159,"v":-7.3},{"t":2161,"v":-7.8},{"t":2162,"v":-8},{"t":2164,"v":-8.4},{"t":2165,"v":-8.6},{"t":2167,"v":-8.9},{"t":2168,"v":-9},{"t":2170,"v":-10},{"t":2171,"v":-10.6},{"t":2173,"v":-10},{"t":2175,"v":-9.3},{"t":2177,"v":-8.9},{"t":2179,"v":-8.5},{"t":2181,"v":-8.2},{"t":2183,"v":-7.8},{"t":2185,"v":-7},{"t":2187,"v":-6.2},{"t":2189,"v":-5.4},{"t":2190,"v":-5},{"t":2192,"v":-3.5},{"t":2193,"v":-2.8},{"t":2195,"v":-1.7},{"t":2196,"v":-1.1},{"t":2198,"v":0},{"t":2199,"v":0.5},{"t":2201,"v":1.4},{"t":2202,"v":1.8},{"t":2204,"v":2.6},{"t":2205,"v":3},{"t":2207,"v":3.3},{"t":2209,"v":3.5},{"t":2211,"v":3.7},{"t":2213,"v":3.9},{"t":2215,"v":2.5},{"t":2216,"v":1.5},{"t":2218,"v":1},{"t":2220,"v":0.5},{"t":2222,"v":0},{"t":2224,"v":-0.5},{"t":2226,"v":-1.1},{"t":2228,"v":-1.7},{"t":2230,"v":-2.3},{"t":2232,"v":-3},{"t":2234,"v":-4},{"t":2235,"v":-5},{"t":2236,"v":-6},{"t":2237,"v":-7},{"t":2238,"v":-8.2},{"t":2239,"v":-9.5},{"t":2240,"v":-10.5},{"t":2241,"v":-11.5},{"t":2243,"v":-12.5},{"t":2244,"v":-13},{"t":2246,"v":-13.9},{"t":2247,"v":-14.3},{"t":2249,"v":-15.2},{"t":2250,"v":-15.6},{"t":2252,"v":-14.6},{"t":2253,"v":-14},{"t":2255,"v":-13.3},{"t":2256,"v":-12.9},{"t":2258,"v":-11.7},{"t":2259,"v":-11},{"t":2261,"v":-9.4},{"t":2262,"v":-8.5},{"t":2264,"v":-6.8},{"t":2265,"v":-6},{"t":2267,"v":-4.8},{"t":2268,"v":-4.2},{"t":2270,"v":-3},{"t":2271,"v":-2.3},{"t":2273,"v":-1.1},{"t":2274,"v":-0.5},{"t":2276,"v":0.6},{"t":2277,"v":1.2},{"t":2279,"v":1.6},{"t":2281,"v":2},{"t":2283,"v":3},{"t":2285,"v":3.9},{"t":2287,"v":4.5},{"t":2289,"v":5},{"t":2291,"v":4.5},{"t":2293,"v":4},{"t":2295,"v":3.2},{"t":2297,"v":2.4},{"t":2299,"v":2},{"t":2301,"v":1.7},{"t":2303,"v":0.8},{"t":2305,"v":0},{"t":2307,"v":-1.5},{"t":2309,"v":-3},{"t":2311,"v":-2},{"t":2313,"v":-1},{"t":2315,"v":0},{"t":2317,"v":1.1},{"t":2319,"v":1.6},{"t":2321,"v":2.2},{"t":2323,"v":2.8},{"t":2325,"v":3.3},{"t":2327,"v":3.1},{"t":2329,"v":3},{"t":2331,"v":3.9},{"t":2333,"v":4.8},{"t":2335,"v":5.3},{"t":2337,"v":5.8},{"t":2339,"v":6},{"t":2341,"v":6.2},{"t":2343,"v":7},{"t":2344,"v":7.5},{"t":2346,"v":6.5},{"t":2348,"v":5.5},{"t":2350,"v":5.8},{"t":2352,"v":6},{"t":2354,"v":5.2},{"t":2356,"v":4.5},{"t":2358,"v":3.5},{"t":2360,"v":2.5},{"t":2362,"v":1.9},{"t":2364,"v":1.4},{"t":2366,"v":2.2},{"t":2368,"v":3},{"t":2370,"v":4.5},{"t":2372,"v":6.1},{"t":2374,"v":6.6},{"t":2376,"v":7},{"t":2378,"v":7.3},{"t":2380,"v":7.5},{"t":2382,"v":7.8},{"t":2384,"v":8},{"t":2386,"v":8.3},{"t":2388,"v":8.6},{"t":2390,"v":8.5},{"t":2392,"v":8.3},{"t":2394,"v":8},{"t":2396,"v":7.8},{"t":2398,"v":5.2},{"t":2399,"v":4},{"t":2401,"v":2.8},{"t":2402,"v":2.2},{"t":2404,"v":1.1},{"t":2405,"v":0.5},{"t":2407,"v":-0.5},{"t":2408,"v":-1},{"t":2410,"v":-1.3},{"t":2412,"v":-1.5},{"t":2414,"v":-1.8},{"t":2416,"v":-2},{"t":2418,"v":-1.6},{"t":2420,"v":-1.2},{"t":2422,"v":-1.8},{"t":2424,"v":-2.3},{"t":2426,"v":-1.4},{"t":2428,"v":-0.6},{"t":2430,"v":0.3},{"t":2431,"v":0.8},{"t":2433,"v":1.7},{"t":2435,"v":2.5},{"t":2437,"v":3.5},{"t":2439,"v":4.5},{"t":2441,"v":5.8},{"t":2442,"v":6.5},{"t":2444,"v":8.2},{"t":2445,"v":9},{"t":2447,"v":10},{"t":2448,"v":10.5},{"t":2450,"v":11.3},{"t":2452,"v":12},{"t":2454,"v":11},{"t":2455,"v":10.5},{"t":2457,"v":8.8},{"t":2458,"v":8},{"t":2460,"v":6.7},{"t":2461,"v":6},{"t":2463,"v":4.3},{"t":2464,"v":3.5},{"t":2466,"v":2.3},{"t":2467,"v":1.7},{"t":2469,"v":-0.4},{"t":2470,"v":-1.5},{"t":2472,"v":-2.4},{"t":2473,"v":-2.8},{"t":2475,"v":-3.2},{"t":2476,"v":-3.4},{"t":2478,"v":-4.1},{"t":2479,"v":-4.5},{"t":2481,"v":-5.5},{"t":2482,"v":-6},{"t":2484,"v":-7.3},{"t":2485,"v":-7.9},{"t":2487,"v":-7.7},{"t":2488,"v":-7.5},{"t":2490,"v":-6.8},{"t":2491,"v":-6.5},{"t":2493,"v":-6.8},{"t":2495,"v":-7},{"t":2497,"v":-6.4},{"t":2499,"v":-5.8},{"t":2501,"v":-5.4},{"t":2503,"v":-5},{"t":2505,"v":-4},{"t":2507,"v":-3},{"t":2509,"v":-2.4},{"t":2511,"v":-1.8},{"t":2513,"v":-1.2},{"t":2515,"v":-0.6},{"t":2517,"v":-0.3},{"t":2519,"v":0},{"t":2521,"v":-0.5},{"t":2523,"v":-1},{"t":2525,"v":-2.2},{"t":2527,"v":-3.5},{"t":2529,"v":-4},{"t":2531,"v":-4.5},{"t":2533,"v":-3.5},{"t":2535,"v":-2.5},{"t":2537,"v":-2.1},{"t":2539,"v":-1.7},{"t":2541,"v":-1.1},{"t":2543,"v":-0.6},{"t":2545,"v":0},{"t":2547,"v":0.5},{"t":2549,"v":1.6},{"t":2551,"v":2.8},{"t":2553,"v":3.7},{"t":2555,"v":4.5},{"t":2557,"v":5},{"t":2559,"v":5.5},{"t":2561,"v":5.7},{"t":2563,"v":5.8},{"t":2565,"v":6.1},{"t":2567,"v":6.4},{"t":2569,"v":7.5},{"t":2571,"v":8.6},{"t":2573,"v":7.6},{"t":2574,"v":7},{"t":2576,"v":5.4},{"t":2577,"v":4.7},{"t":2579,"v":4.3},{"t":2581,"v":4},{"t":2583,"v":3.7},{"t":2585,"v":3.5},{"t":2587,"v":3.2},{"t":2589,"v":3},{"t":2591,"v":2.6},{"t":2593,"v":2.2},{"t":2595,"v":3},{"t":2597,"v":3.8},{"t":2599,"v":3.5},{"t":2601,"v":3.2},{"t":2603,"v":2.8},{"t":2605,"v":2.5},{"t":2607,"v":3},{"t":2609,"v":3.5},{"t":2611,"v":2.8},{"t":2613,"v":2.2},{"t":2615,"v":1.6},{"t":2617,"v":1},{"t":2619,"v":0.2},{"t":2620,"v":-0.5},{"t":2622,"v":-1.5},{"t":2623,"v":-2},{"t":2625,"v":-2.9},{"t":2626,"v":-3.4},{"t":2628,"v":-4.5},{"t":2629,"v":-5},{"t":2631,"v":-5.4},{"t":2632,"v":-5.6},{"t":2634,"v":-6.4},{"t":2635,"v":-6.8},{"t":2637,"v":-7.5},{"t":2638,"v":-7.9},{"t":2640,"v":-8.2},{"t":2642,"v":-8.4},{"t":2644,"v":-8.6},{"t":2646,"v":-8.7},{"t":2648,"v":-9.1},{"t":2650,"v":-9.5},{"t":2652,"v":-9.5},{"t":2654,"v":-9.4},{"t":2656,"v":-9},{"t":2658,"v":-8.5},{"t":2660,"v":-7.3},{"t":2662,"v":-6.2},{"t":2664,"v":-5.6},{"t":2666,"v":-5},{"t":2668,"v":-3.8},{"t":2669,"v":-3.1},{"t":2671,"v":-1.5},{"t":2672,"v":-0.6},{"t":2674,"v":0.5},{"t":2675,"v":1},{"t":2677,"v":1.8},{"t":2678,"v":2.2},{"t":2680,"v":3.3},{"t":2681,"v":3.9},{"t":2683,"v":4.9},{"t":2684,"v":5.3},{"t":2686,"v":4.9},{"t":2688,"v":4.5},{"t":2690,"v":4.2},{"t":2692,"v":3.9},{"t":2694,"v":3.2},{"t":2696,"v":2.5},{"t":2698,"v":2.1},{"t":2700,"v":1.7},{"t":2702,"v":1.1},{"t":2704,"v":0.5},{"t":2706,"v":0},{"t":2708,"v":-0.5},{"t":2710,"v":-0.9},{"t":2711,"v":-1.1},{"t":2713,"v":-2.9},{"t":2714,"v":-3.9},{"t":2716,"v":-5.4},{"t":2717,"v":-6.1},{"t":2719,"v":-7.1},{"t":2720,"v":-7.6},{"t":2722,"v":-8.9},{"t":2723,"v":-9.5},{"t":2725,"v":-10.5},{"t":2726,"v":-10.9},{"t":2728,"v":-9.6},{"t":2729,"v":-9},{"t":2731,"v":-8.2},{"t":2732,"v":-7.9},{"t":2734,"v":-7.3},{"t":2735,"v":-7},{"t":2737,"v":-6},{"t":2738,"v":-5.6},{"t":2740,"v":-4.9},{"t":2741,"v":-4.5},{"t":2743,"v":-3.5},{"t":2744,"v":-3},{"t":2746,"v":-2.1},{"t":2747,"v":-1.7},{"t":2749,"v":-1},{"t":2750,"v":-0.6},{"t":2752,"v":0.5},{"t":2753,"v":1},{"t":2755,"v":1.6},{"t":2756,"v":1.9},{"t":2758,"v":2.8},{"t":2759,"v":3.3},{"t":2761,"v":3.8},{"t":2763,"v":4.2},{"t":2765,"v":4.6},{"t":2767,"v":5},{"t":2769,"v":4.8},{"t":2771,"v":4.5},{"t":2773,"v":3.4},{"t":2775,"v":2.2},{"t":2777,"v":1.3},{"t":2779,"v":0.5},{"t":2781,"v":-0.6},{"t":2783,"v":-1.6},{"t":2785,"v":-1},{"t":2787,"v":-0.5},{"t":2789,"v":0.6},{"t":2791,"v":1.7},{"t":2793,"v":2.1},{"t":2795,"v":2.5},{"t":2797,"v":2.9},{"t":2799,"v":3.3},{"t":2801,"v":2.9},{"t":2803,"v":2.5},{"t":2805,"v":3.5},{"t":2807,"v":4.5},{"t":2809,"v":4},{"t":2811,"v":3.5},{"t":2813,"v":3},{"t":2815,"v":2.5},{"t":2817,"v":1.9},{"t":2819,"v":1.4},{"t":2821,"v":2.1},{"t":2823,"v":2.8},{"t":2825,"v":2.2},{"t":2827,"v":1.7},{"t":2829,"v":1.8},{"t":2831,"v":2},{"t":2833,"v":0.8},{"t":2835,"v":-0.3},{"t":2837,"v":-0.9},{"t":2839,"v":-1.5},{"t":2841,"v":-2},{"t":2843,"v":-2.5},{"t":2845,"v":-1.8},{"t":2847,"v":-1},{"t":2849,"v":1.2},{"t":2851,"v":3.3},{"t":2853,"v":3.7},{"t":2855,"v":4},{"t":2857,"v":4.1},{"t":2859,"v":4.2},{"t":2861,"v":4},{"t":2863,"v":3.8},{"t":2865,"v":4.2},{"t":2867,"v":4.7},{"t":2869,"v":4.1},{"t":2871,"v":3.5},{"t":2873,"v":2.8},{"t":2875,"v":2.2},{"t":2877,"v":1.3},{"t":2879,"v":0.5},{"t":2881,"v":-0.2},{"t":2883,"v":-0.9},{"t":2885,"v":-2},{"t":2887,"v":-3},{"t":2889,"v":-3.5},{"t":2891,"v":-4},{"t":2893,"v":-4.2},{"t":2895,"v":-4.5},{"t":2897,"v":-4.2},{"t":2899,"v":-4},{"t":2901,"v":-4.1},{"t":2903,"v":-4.3},{"t":2905,"v":-3.2},{"t":2907,"v":-2},{"t":2909,"v":0.5},{"t":2910,"v":2},{"t":2912,"v":3.3},{"t":2913,"v":4},{"t":2915,"v":5.2},{"t":2916,"v":5.8},{"t":2918,"v":6.4},{"t":2919,"v":6.7},{"t":2921,"v":7.6},{"t":2922,"v":8},{"t":2924,"v":8.7},{"t":2925,"v":9},{"t":2927,"v":9.3},{"t":2928,"v":9.5},{"t":2930,"v":9.8},{"t":2931,"v":10},{"t":2933,"v":8.7},{"t":2934,"v":8},{"t":2936,"v":6.4},{"t":2937,"v":5.6},{"t":2939,"v":4.4},{"t":2940,"v":3.8},{"t":2942,"v":3.1},{"t":2943,"v":2.8},{"t":2945,"v":1},{"t":2946,"v":0},{"t":2948,"v":-1.5},{"t":2949,"v":-2.3},{"t":2951,"v":-3.1},{"t":2952,"v":-3.5},{"t":2954,"v":-4.4},{"t":2955,"v":-4.8},{"t":2957,"v":-5.3},{"t":2958,"v":-5.6},{"t":2960,"v":-6.5},{"t":2961,"v":-7},{"t":2963,"v":-8},{"t":2964,"v":-8.5},{"t":2966,"v":-9},{"t":2967,"v":-9.3},{"t":2969,"v":-8.5},{"t":2970,"v":-8},{"t":2972,"v":-7.6},{"t":2973,"v":-7.3},{"t":2975,"v":-9}]
},
"layer": [
{"data": {"name": "raw"},
 "mark": {"type": "point", "filled": true, "opacity": 1, "fillOpacity": 0.8, "stroke": "black", "strokeOpacity": 0.5},
 "encoding": {
  "x": {"field": "t", "type": "quantitative",
   "scale": {"domain": [-148.6, 3120], "nice": false, "zero": false},
   "axis": {"values": [0,500,1000,1500,2000,2500,3000], "format": "d", "title": "Time [sec]", "grid": false, "domain": false,
    "labelFontSize": 28, "labelFont": "DejaVu Sans", "labelColor": "black", "labelAngle": -45, "labelAlign": "center", "labelBaseline": "middle",
    "labelPadding": {"condition": [{"test": "datum.value < 1", "value": 38}, {"test": "datum.value < 1000", "value": 53}], "value": 59},
    "labelOffset": -3, "labelFlush": false, "labelOverlap": false,
    "tickSize": -16, "tickWidth": 3, "tickColor": "black",
    "titleFontSize": 28, "titleFont": "DejaVu Sans", "titleFontWeight": "normal", "titleColor": "black", "titleY": 100, "titleBaseline": "middle"}},
  "y": {"field": "v", "type": "quantitative",
   "scale": {"domain": [-30, 30], "nice": false, "zero": false},
   "axis": {"values": [-30,-20,-10,0,10,20,30], "format": "d", "title": "Δ RA [arcsec]", "grid": false, "domain": false,
    "labelFontSize": 28, "labelFont": "DejaVu Sans", "labelColor": "black", "labelPadding": 24, "labelFlush": false, "labelOverlap": false,
    "tickSize": -16, "tickWidth": 3, "tickColor": "black",
    "titleFontSize": 28, "titleFont": "DejaVu Sans", "titleFontWeight": "normal", "titleColor": "black",
    "titleX": -90, "titleY": 357.5, "titleAngle": -90, "titleAlign": "center", "titleBaseline": "middle"}},
  "color": {"datum": "2020-04-11 Delta Vir", "type": "nominal",
   "scale": {"domain": ["2020-04-11 Delta Vir (smooth)", "2020-04-11 Delta Vir"], "range": ["#008000", "#8c8c8c"]},
   "legend": {"title": null, "orient": "bottom-right", "offset": 12,
    "labelFontSize": 25, "labelFont": "DejaVu Sans", "labelColor": "black", "labelLimit": 0, "labelBaseline": "middle",
    "labelOffset": 22, "padding": 8, "rowPadding": 12, "clipHeight": 24,
    "strokeColor": "#d0d0d0", "fillColor": "white", "cornerRadius": 5}},
  "shape": {"datum": "2020-04-11 Delta Vir", "type": "nominal",
   "scale": {"domain": ["2020-04-11 Delta Vir (smooth)", "2020-04-11 Delta Vir"], "range": ["stroke", "circle"]},
   "legend": {"title": null}},
  "size": {"datum": "2020-04-11 Delta Vir", "type": "nominal",
   "scale": {"type": "ordinal", "domain": ["2020-04-11 Delta Vir (smooth)", "2020-04-11 Delta Vir"], "range": [3025, 20]},
   "legend": {"title": null}},
  "strokeWidth": {"datum": "2020-04-11 Delta Vir", "type": "nominal",
   "scale": {"type": "ordinal", "domain": ["2020-04-11 Delta Vir (smooth)", "2020-04-11 Delta Vir"], "range": [4, 0.8]},
   "legend": {"title": null}}
 }},
{"data": {"name": "smooth"},
 "mark": {"type": "line", "strokeWidth": 4, "interpolate": "monotone"},
 "encoding": {
  "x": {"field": "t", "type": "quantitative"},
  "y": {"field": "v", "type": "quantitative"},
  "color": {"datum": "2020-04-11 Delta Vir (smooth)", "type": "nominal"}
 }}
]
}
